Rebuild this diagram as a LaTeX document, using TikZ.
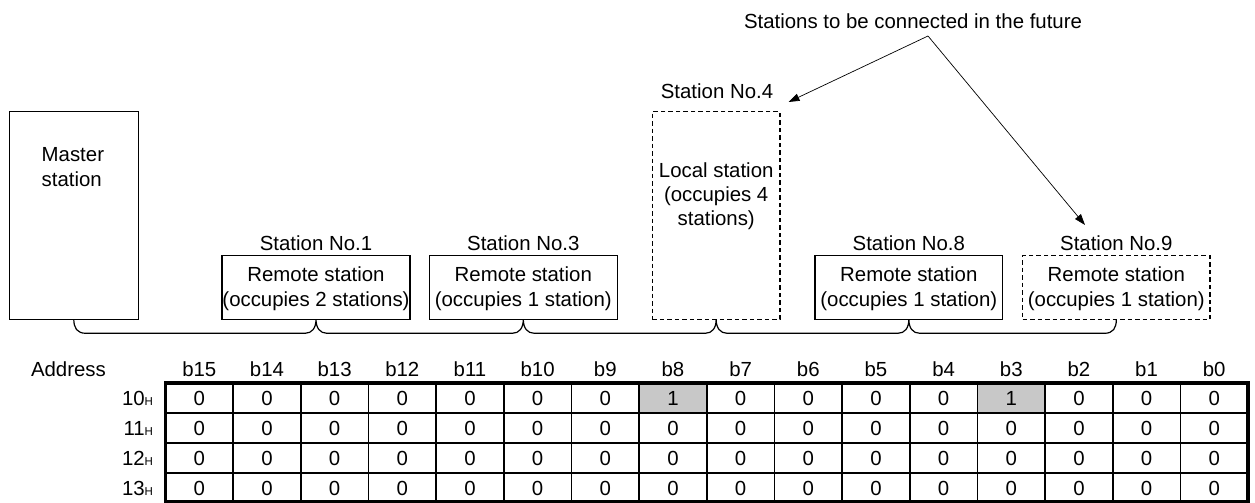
\documentclass[tikz,border=0pt]{standalone}
\usepackage{fontspec}
\setmainfont{Liberation Sans}
\usetikzlibrary{arrows.meta}
\definecolor{cellfill}{RGB}{200,200,200}
\begin{document}
\begin{tikzpicture}[x=1pt,y=-1pt,
  every node/.style={inner sep=0pt, outer sep=0pt, font=\fontsize{20.4}{24}\selectfont},
  txt/.style={anchor=base},
  box/.style={draw, line width=1.2pt, inner sep=0pt, anchor=north west},
  dbox/.style={box, dash pattern=on 4.5pt off 3pt},
  brace/.style={line width=1.2pt},
  pointer/.style={line width=0.7pt, -{Triangle[length=11pt,width=7.5pt]}},
  thingrid/.style={line width=1.6pt},
  thickgrid/.style={line width=3.2pt},
]
\useasboundingbox (0,0) rectangle (1255,503);

% station boxes
\node[box, minimum width=129pt, minimum height=207.6pt] (master) at (9.3,111.7) {};
\node[box, minimum width=188pt, minimum height=63.6pt] (s1) at (222,255.7) {};
\node[box, minimum width=188pt, minimum height=63.6pt] (s3) at (429.3,255.7) {};
\node[dbox, minimum width=127.7pt, minimum height=207.6pt] (s4) at (652.3,111.7) {};
\node[box, minimum width=187.7pt, minimum height=63.6pt] (s8) at (815,255.7) {};
\node[dbox, minimum width=187.3pt, minimum height=63.6pt] (s9) at (1022.7,255.7) {};

% texts in boxes
\node[anchor=base west] (m1) at (41.7,161.7) {Master};
\node[anchor=base west] (m2) at (41.7,186) {station};

\node[txt] (s1a) at (316,281.7) {Remote station};
\node[txt] (s1b) at (316,306.7) {(occupies 2 stations)};
\node[txt] (s3a) at (523.3,281.7) {Remote station};
\node[txt] (s3b) at (523.3,306.7) {(occupies 1 station)};
\node[txt] (s4a) at (716.2,177.5) {Local station};
\node[txt] (s4b) at (716.2,201.7) {(occupies 4};
\node[txt] (s4c) at (716.2,225) {stations)};
\node[txt] (s8a) at (908.8,281.7) {Remote station};
\node[txt] (s8b) at (908.8,306.7) {(occupies 1 station)};
\node[txt] (s9a) at (1116.3,281.7) {Remote station};
\node[txt] (s9b) at (1116.3,306.7) {(occupies 1 station)};

% station labels
\node[txt] (l1) at (316,250) {Station No.1};
\node[txt] (l3) at (523.3,250) {Station No.3};
\node[txt] (l4) at (717,98) {Station No.4};
\node[txt] (l8) at (908.8,250) {Station No.8};
\node[txt] (l9) at (1116.3,250) {Station No.9};

% future label and arrows
\node[anchor=base west] (future) at (744,28.3) {Stations to be connected in the future};
\coordinate (fut) at (928,36);
\coordinate (tip4) at (788.5,102);
\coordinate (tip9) at (1085,225);
\draw[pointer] (fut) -- (tip4);
\draw[pointer] (fut) -- (tip9);

% brace / bus line
\draw[brace] (master.south) .. controls (73.8,328) and (77,333.3) .. (86,333.3)
  -- (305,333.3) .. controls (312,333.3) and (316,328) .. (s1.south)
  .. controls (316,328) and (320,333.3) .. (327,333.3)
  -- (512.3,333.3) .. controls (519.3,333.3) and (523.3,328) .. (s3.south)
  .. controls (523.3,328) and (527.3,333.3) .. (534.3,333.3)
  -- (705.2,333.3) .. controls (712.2,333.3) and (716.2,328) .. (s4.south)
  .. controls (716.2,328) and (720.2,333.3) .. (727.2,333.3)
  -- (897.8,333.3) .. controls (904.8,333.3) and (908.8,328) .. (s8.south)
  .. controls (908.8,328) and (912.8,333.3) .. (919.8,333.3)
  -- (1104.3,333.3) .. controls (1113.3,333.3) and (1116.3,328) .. (s9.south);

% table
\node[anchor=base west] (addr) at (31,376) {Address};
\fill[cellfill] ({165.5+7*67.66},383) rectangle ++(67.66,30);
\fill[cellfill] ({165.5+12*67.66},383) rectangle ++(67.66,30);
\foreach \c in {0,...,15}{
  \pgfmathtruncatemacro\bit{15-\c}
  \node[txt] (h\c) at ({165.5+(\c+0.5)*67.66},376) {b\bit};
}
\foreach \r in {0,...,3}{
  \node[anchor=base east] (row\r) at (153,{383+30*\r+22.3}) {1\r{\fontsize{11.5}{12}\selectfont H}};
  \foreach \c in {0,...,15}{
    \pgfmathtruncatemacro\val{(\r==0)&&((\c==7)||(\c==12))}
    \node[txt] (cell-\r-\c) at ({165.5+(\c+0.5)*67.66},{383+30*\r+22.3}) {\val};
  }
}
\foreach \i in {1,...,15}{
  \draw[thingrid] ({165.5+\i*67.66},383) -- ({165.5+\i*67.66},502);
}
\foreach \j in {1,2,3}{
  \draw[thingrid] (165.5,{383+30*\j}) -- (1248,{383+30*\j});
}
\draw[thickgrid] (165.5,383) rectangle (1248,502);
\end{tikzpicture}
\end{document}
